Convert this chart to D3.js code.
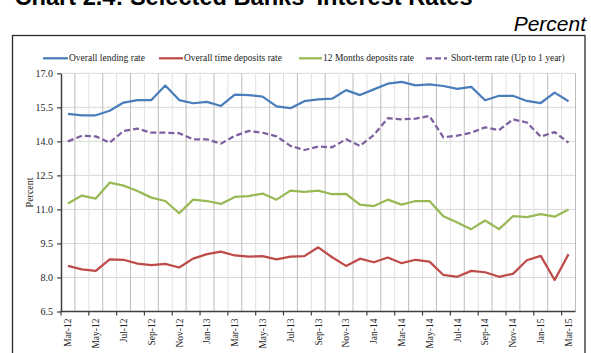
<!DOCTYPE html>
<html>
<head>
<meta charset="utf-8">
<script src="https://cdn.jsdelivr.net/npm/d3@7/dist/d3.min.js"></script>
<style>
  html, body { margin: 0; padding: 0; background: #fff; }
  svg { display: block; }
</style>
</head>
<body>
<svg id="chart" width="591" height="353"></svg>
<script>
// ---- DATA ----
const categories = ["Mar-12","Apr-12","May-12","Jun-12","Jul-12","Aug-12","Sep-12","Oct-12","Nov-12","Dec-12",
  "Jan-13","Feb-13","Mar-13","Apr-13","May-13","Jun-13","Jul-13","Aug-13","Sep-13","Oct-13","Nov-13","Dec-13",
  "Jan-14","Feb-14","Mar-14","Apr-14","May-14","Jun-14","Jul-14","Aug-14","Sep-14","Oct-14","Nov-14","Dec-14",
  "Jan-15","Feb-15","Mar-15"];
const tickLabels = ["Mar-12","May-12","Jul-12","Sep-12","Nov-12","Jan-13","Mar-13","May-13","Jul-13","Sep-13",
  "Nov-13","Jan-14","Mar-14","May-14","Jul-14","Sep-14","Nov-14","Jan-15","Mar-15"];
const yTicks = [6.5, 8.0, 9.5, 11.0, 12.5, 14.0, 15.5, 17.0];
const seriesNames = ["Overall lending rate","Overall time deposits rate","12 Months deposits rate","Short-term rate (Up to 1 year)"];
const lendingRate = [15.21,15.15,15.15,15.35,15.71,15.82,15.82,16.46,15.82,15.68,15.74,15.56,16.06,16.04,15.97,15.54,15.46,15.77,15.85,
  15.88,16.26,16.04,16.29,16.54,16.62,16.47,16.51,16.44,16.31,16.40,15.81,16.01,16.01,15.78,15.69,16.15,15.77];
const timeDepositsRate = [8.51,8.36,8.29,8.80,8.78,8.61,8.54,8.60,8.44,8.83,9.03,9.14,8.97,8.92,8.94,8.80,8.92,8.94,9.33,
  8.89,8.51,8.83,8.67,8.88,8.63,8.78,8.70,8.11,8.03,8.29,8.23,8.03,8.16,8.76,8.95,7.89,9.03];
const twelveMonthRate = [11.26,11.61,11.48,12.18,12.05,11.81,11.52,11.37,10.83,11.43,11.37,11.24,11.55,11.59,11.70,11.43,11.83,11.77,11.83,
  11.67,11.68,11.21,11.15,11.43,11.21,11.37,11.37,10.70,10.42,10.13,10.51,10.13,10.70,10.66,10.79,10.68,11.00];
const shortTermRate = [14.00,14.25,14.22,13.94,14.46,14.56,14.38,14.38,14.36,14.09,14.09,13.90,14.24,14.46,14.38,14.22,13.80,13.62,13.77,
  13.74,14.09,13.80,14.28,15.02,14.97,15.00,15.12,14.18,14.25,14.38,14.62,14.49,14.97,14.83,14.21,14.41,13.94];

const seriesValues = [lendingRate, timeDepositsRate, twelveMonthRate, shortTermRate];
const seriesColors = ["#4A7EBB", "#BE4B48", "#98B954", "#7D60A0"];
const seriesDash = [null, null, null, "6,3"];

// ---- LAYOUT ----
const svg = d3.select("#chart");
const serif = "'Liberation Serif','Times New Roman',serif";
const sans = "'Liberation Sans',Arial,sans-serif";

// Title (partially cut off at top)
svg.append("text").attr("x", 14.5).attr("y", 4.5)
  .attr("font-family", sans).attr("font-weight", "bold").attr("font-size", 23.6)
  .attr("fill", "#000").text("Chart 2.4: Selected Banks' Interest Rates");

svg.append("text").attr("x", 586).attr("y", 30.5).attr("text-anchor", "end")
  .attr("font-family", sans).attr("font-style", "italic").attr("font-size", 21)
  .attr("fill", "#000").text("Percent");

// Outer box
svg.append("rect").attr("x", 12.5).attr("y", 35.5).attr("width", 572.5).attr("height", 340)
  .attr("fill", "none").attr("stroke", "#2b2b2b").attr("stroke-width", 1.3);

const pLeft = 61, pRight = 575.5, pTop = 73.3, pBottom = 311.5;
const x = d3.scaleBand().domain(categories).range([pLeft, pRight]).padding(0);
const y = d3.scaleLinear().domain([6.5, 17]).range([pBottom, pTop]);
const cx = c => x(c) + x.bandwidth() / 2;

// Horizontal gridlines
svg.append("g").selectAll("line").data(yTicks.slice(1)).join("line")
  .attr("x1", pLeft).attr("x2", pRight)
  .attr("y1", d => y(d)).attr("y2", d => y(d))
  .attr("stroke", "#d9d9d9").attr("stroke-width", 1);

// Vertical gridlines at category boundaries
const boundaries = categories.map((c, i) => i).slice(1).concat([categories.length]);
svg.append("g").selectAll("line").data(boundaries).join("line")
  .attr("x1", i => i < categories.length ? x(categories[i]) : pRight)
  .attr("x2", i => i < categories.length ? x(categories[i]) : pRight)
  .attr("y1", pTop).attr("y2", pBottom)
  .attr("stroke", i => (i % 2 === 1) ? "#bdbdbd" : "#e0e0e0").attr("stroke-width", 1);

// Y axis
const yAxis = d3.axisLeft(y).tickValues(yTicks).tickFormat(d3.format(".1f")).tickSizeInner(4).tickSizeOuter(0).tickPadding(4);
const gy = svg.append("g").attr("transform", `translate(${pLeft},0)`).call(yAxis);
gy.select(".domain").attr("stroke", "#404040").attr("stroke-width", 1.5);
gy.selectAll(".tick line").attr("stroke", "#404040").attr("stroke-width", 1.2);
gy.selectAll(".tick text").attr("font-family", serif).attr("font-size", 10).attr("fill", "#222");

// X axis: ticks every two categories at boundaries
const xTickPos = categories.map((c, i) => i).filter(i => i % 2 === 0).map(i => x(categories[i]));
svg.append("g").selectAll("line").data(xTickPos).join("line")
  .attr("x1", d => d).attr("x2", d => d).attr("y1", pBottom).attr("y2", pBottom + 4)
  .attr("stroke", "#404040").attr("stroke-width", 1.2);
svg.append("line").attr("x1", pLeft - 0.75).attr("x2", pRight).attr("y1", pBottom).attr("y2", pBottom)
  .attr("stroke", "#404040").attr("stroke-width", 1.5);

svg.append("g").selectAll("text").data(tickLabels).join("text")
  .attr("transform", d => `translate(${cx(d)},${pBottom + 7}) rotate(-90)`)
  .attr("text-anchor", "end").attr("dy", "0.35em")
  .attr("font-family", serif).attr("font-size", 9.5).attr("fill", "#222")
  .text(d => d);

// Y title
svg.append("text").attr("transform", `translate(32.5,${(pTop + pBottom) / 2}) rotate(-90)`)
  .attr("text-anchor", "middle").attr("font-family", serif).attr("font-size", 10).attr("fill", "#222")
  .text("Percent");

// Lines
const line = d3.line().x((d, i) => cx(categories[i])).y(d => y(d));
seriesValues.forEach((vals, k) => {
  svg.append("path").datum(vals).attr("d", line)
    .attr("fill", "none").attr("stroke", seriesColors[k]).attr("stroke-width", 2.25)
    .attr("stroke-linejoin", "round")
    .attr("stroke-dasharray", seriesDash[k]);
});

// Legend
const legendX = [43, 159, 299, 426];
const legendLen = [25, 24, 23, 21];
const legY = 58.3;
seriesNames.forEach((name, k) => {
  svg.append("line").attr("x1", legendX[k]).attr("x2", legendX[k] + legendLen[k])
    .attr("y1", legY).attr("y2", legY)
    .attr("stroke", seriesColors[k]).attr("stroke-width", 2.25)
    .attr("stroke-dasharray", seriesDash[k]);
  svg.append("text").attr("x", legendX[k] + legendLen[k] + (k === 3 ? 4 : 1)).attr("y", legY + 3)
    .attr("font-family", serif).attr("font-size", 9.5).attr("fill", "#222").text(name);
});
</script>
</body>
</html>
